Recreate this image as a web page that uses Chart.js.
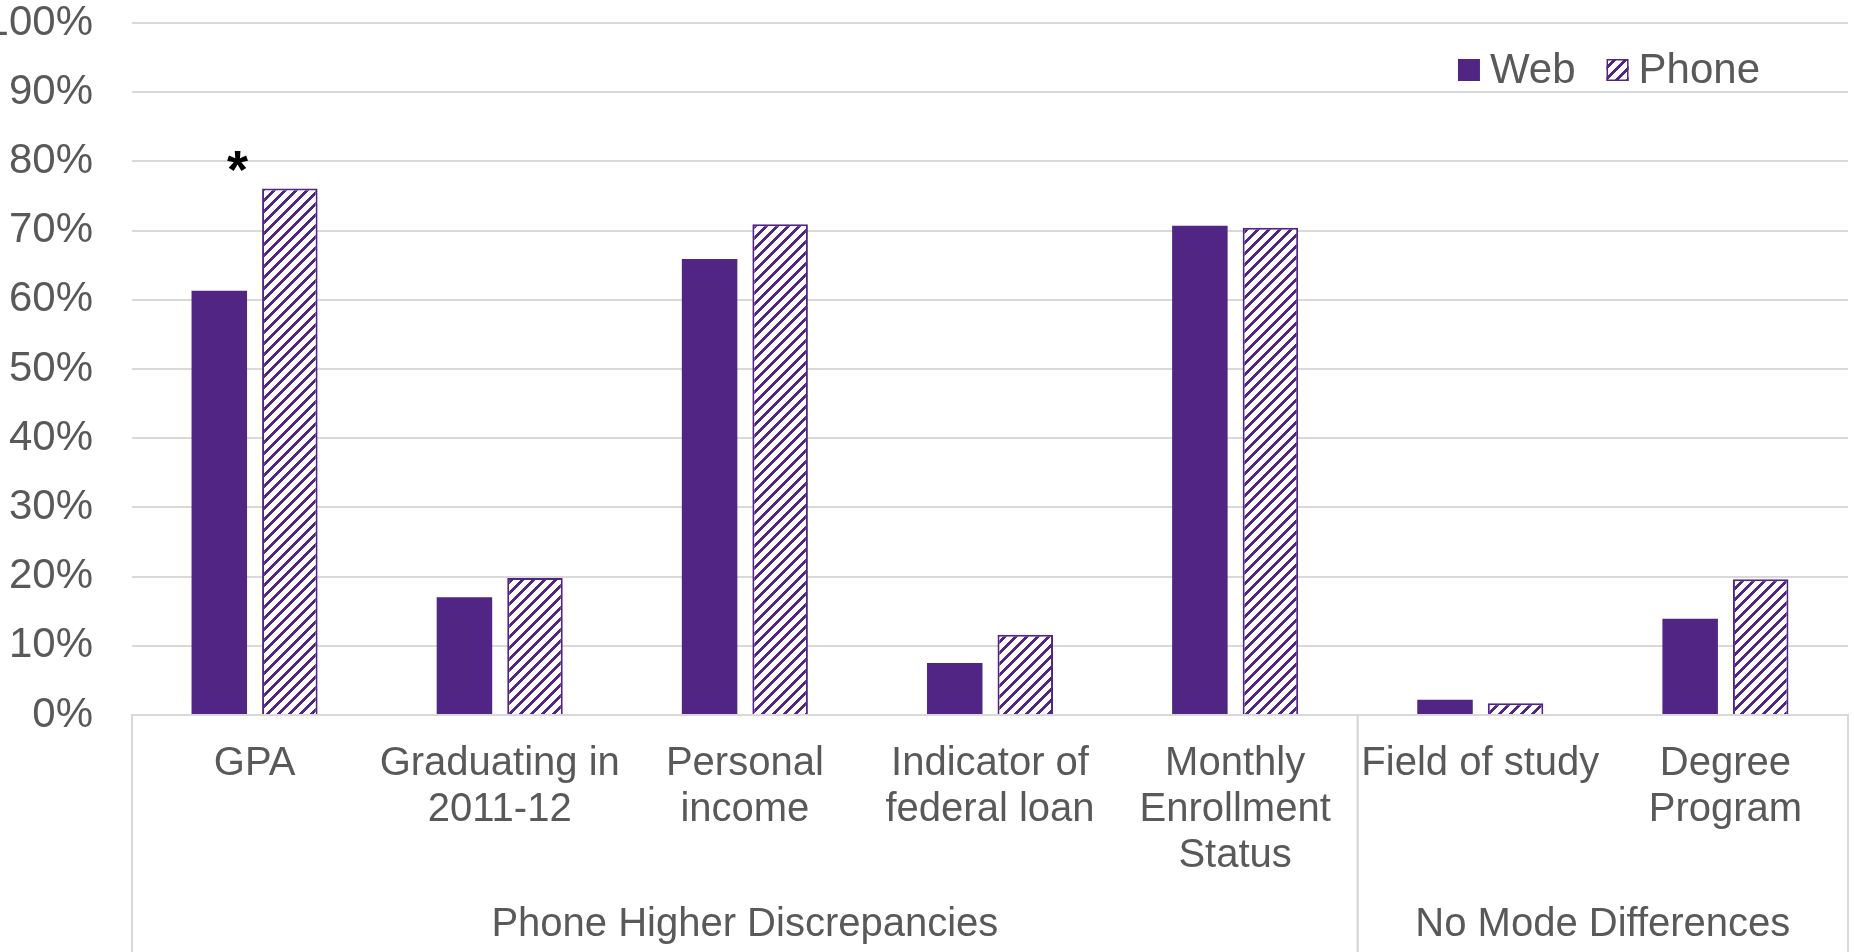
<!DOCTYPE html>
<html>
<head>
<meta charset="utf-8">
<script src="https://cdn.jsdelivr.net/npm/chart.js@4"></script>
<style>
  html, body { margin: 0; padding: 0; background: #fff; overflow: hidden; }
  canvas { display: block; }
</style>
</head>
<body>
<canvas id="myChart" width="1854" height="952"></canvas>
<script>
var categories = ["GPA", ["Graduating in", "2011-12"], ["Personal", "income"], ["Indicator of", "federal loan"],
                  ["Monthly", "Enrollment", "Status"], "Field of study", ["Degree", "Program"]];
var webValues = [61.3, 17.0, 65.9, 7.5, 70.7, 2.2, 13.9];
var phoneValues = [76.1, 19.8, 70.9, 11.6, 70.4, 1.7, 19.6];
var significance = ["*", "", "", "", "", "", ""];
var groupNames = ["Phone Higher Discrepancies", "No Mode Differences"];
var groupStart = [0, 5];
var groupEnd = [4, 6];
var yTicks = [0, 10, 20, 30, 40, 50, 60, 70, 80, 90, 100];

var purple = "#512583";
var textGray = "#595959";
var gridGray = "#d9d9d9";
var fontName = "'Liberation Sans', Arial, sans-serif";

function makeHatch(){
    var size = 11;
    var tile = document.createElement("canvas");
    tile.width = size;
    tile.height = size;
    var tctx = tile.getContext("2d");
    tctx.fillStyle = "#ffffff";
    tctx.fillRect(0, 0, size, size);
    tctx.fillStyle = purple;
    for (var x = 0; x < size; x++) {
        for (var y = 0; y < size; y++) {
            if ((x + y) % size < 4) tctx.fillRect(x, y, 1, 1);
        }
    }
    return document.createElement("canvas").getContext("2d").createPattern(tile, "repeat");
}

var hatch = makeHatch();

// group labels, separators, asterisk and legend
var extras = {
    id: "extras",
    afterDraw: function(chart){
        var ctx = chart.ctx;
        var xs = chart.scales.x;
        var ys = chart.scales.y;
        var area = chart.chartArea;
        var half = (xs.getPixelForValue(1) - xs.getPixelForValue(0)) / 2;
        ctx.save();

        ctx.strokeStyle = gridGray;
        ctx.lineWidth = 2;
        for (var g = 0; g < groupNames.length; g++) {
            var left = xs.getPixelForValue(groupStart[g]) - half;
            var right = xs.getPixelForValue(groupEnd[g]) + half;
            ctx.beginPath();
            ctx.moveTo(left, area.bottom);
            ctx.lineTo(left, chart.height);
            ctx.moveTo(right, area.bottom);
            ctx.lineTo(right, chart.height);
            ctx.stroke();

            ctx.fillStyle = textGray;
            ctx.font = "40px " + fontName;
            ctx.textAlign = "center";
            ctx.textBaseline = "middle";
            var mid = (xs.getPixelForValue(groupStart[g]) + xs.getPixelForValue(groupEnd[g])) / 2;
            ctx.fillText(groupNames[g], mid, 925);
        }

        ctx.fillStyle = "#000000";
        ctx.font = "bold 54px " + fontName;
        ctx.textAlign = "center";
        ctx.textBaseline = "alphabetic";
        for (var i = 0; i < significance.length; i++) {
            if (!significance[i]) continue;
            var top = Math.max(webValues[i], phoneValues[i]);
            ctx.fillText(significance[i], xs.getPixelForValue(i) - 17, ys.getPixelForValue(top));
        }

        // legend
        var names = chart.data.datasets.map(function(d){ return d.label; });
        ctx.font = "42px " + fontName;
        var widths = names.map(function(n){ return ctx.measureText(n).width; });
        var box = 22, gap = 10, itemGap = 31;
        var total = 0;
        for (var k = 0; k < names.length; k++) total += box + gap + widths[k] + (k ? itemGap : 0);
        var lx = area.right - 88 - total;
        var cy = 70;
        for (var k = 0; k < names.length; k++) {
            var ds = chart.data.datasets[k];
            ctx.fillStyle = ds.backgroundColor;
            ctx.fillRect(lx, cy - box / 2, box, box);
            if (ds.borderWidth) {
                ctx.strokeStyle = ds.borderColor;
                ctx.lineWidth = 1.5;
                ctx.strokeRect(lx + 0.75, cy - box / 2 + 0.75, box - 1.5, box - 1.5);
            }
            ctx.fillStyle = textGray;
            ctx.textAlign = "left";
            ctx.textBaseline = "middle";
            ctx.fillText(names[k], lx + box + gap, cy + 1);
            lx += box + gap + widths[k] + itemGap;
        }
        ctx.restore();
    }
};

function showChart(){
    new Chart("myChart", {
        type: "bar",
        data: {
            labels: categories,
            datasets: [{
                label: "Web",
                data: webValues,
                backgroundColor: purple,
                borderWidth: 0,
                barPercentage: 0.787,
                categoryPercentage: 0.5755
            }, {
                label: "Phone",
                data: phoneValues,
                backgroundColor: hatch,
                borderColor: purple,
                borderWidth: 2,
                barPercentage: 0.787,
                categoryPercentage: 0.5755
            }]
        },
        options: {
            responsive: false,
            animation: false,
            devicePixelRatio: 1,
            layout: { padding: { left: 0, right: 6, top: 0, bottom: 0 } },
            plugins: {
                legend: { display: false },
                tooltip: { enabled: false }
            },
            scales: {
                x: {
                    grid: { display: false, drawTicks: false },
                    border: { display: true, color: gridGray, width: 2 },
                    ticks: {
                        color: textGray,
                        font: { family: fontName, size: 40, lineHeight: 1.15 },
                        padding: 26,
                        maxRotation: 0,
                        autoSkip: false
                    },
                    afterFit: function(scale){
                        scale.height = 237;
                        scale.paddingLeft = 0;
                        scale.paddingRight = 0;
                    }
                },
                y: {
                    min: 0,
                    max: 100,
                    afterBuildTicks: function(scale){
                        scale.ticks = yTicks.map(function(v){ return { value: v }; });
                    },
                    grid: { color: gridGray, lineWidth: 2, drawTicks: false },
                    border: { display: false },
                    ticks: {
                        color: textGray,
                        font: { family: fontName, size: 42, lineHeight: 1.15 },
                        padding: 39,
                        callback: function(v){ return v + "%"; }
                    },
                    afterFit: function(scale){
                        scale.width = 132;
                        scale.paddingTop = 23;
                        scale.paddingBottom = 0;
                    }
                }
            }
        },
        plugins: [extras]
    });
}

window.addEventListener("load", showChart);
</script>
</body>
</html>
